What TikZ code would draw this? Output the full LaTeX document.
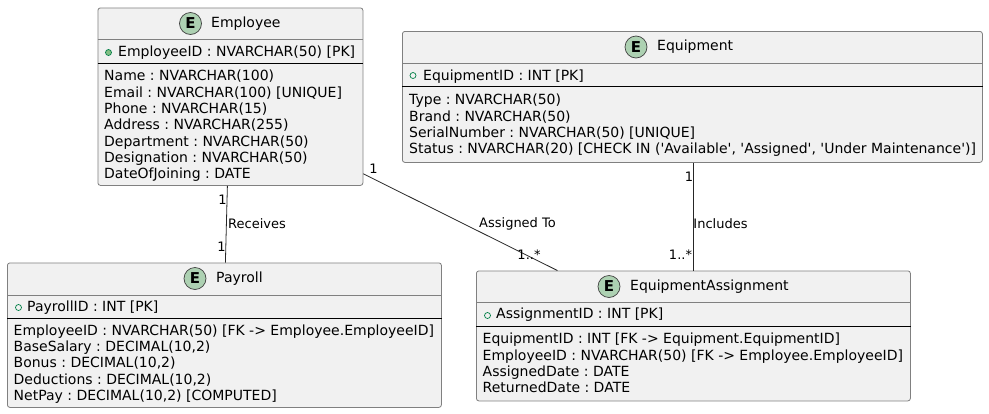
\documentclass[tikz,border=0pt]{standalone}
\usepackage{fontspec}
\setmainfont{DejaVu Sans}
\frenchspacing
\definecolor{boxfill}{HTML}{F1F1F1}
\definecolor{boxline}{HTML}{808080}
\definecolor{badgefill}{HTML}{ADD1B2}
\definecolor{keyline}{HTML}{038048}
\definecolor{keyfill}{HTML}{84BE84}
\tikzset{
  entity/.style={draw=boxline,fill=boxfill,line width=0.8pt,rounded corners=2.5pt,inner sep=0pt,anchor=north west},
  badge/.style={circle,draw=black!75,fill=badgefill,line width=0.7pt,minimum size=22pt,inner sep=0pt,font=\fontsize{15}{15}\selectfont\bfseries},
  title/.style={inner sep=0pt,anchor=west,font=\fontsize{14}{16}\selectfont},
  rows/.style={inner sep=0pt,anchor=north west,align=left,font=\fontsize{14}{16.3}\selectfont},
  rel/.style={inner sep=0pt,font=\fontsize{13}{14}\selectfont},
  keyfull/.style={circle,draw=keyline,fill=keyfill,line width=0.7pt,minimum size=6pt,inner sep=0pt},
  keyopen/.style={circle,draw=keyline,fill=none,line width=0.7pt,minimum size=6pt,inner sep=0pt},
  link/.style={draw=black!85,line width=0.8pt}
}
\begin{document}
\begin{tikzpicture}[x=1pt,y=-1pt]
  \useasboundingbox (0,0) rectangle (989,413);
  % entities
  \node[entity,minimum width=265pt,minimum height=177.5pt] (employee) at (97.5,7.5) {};
  \node[entity,minimum width=580pt,minimum height=131pt] (equipment) at (402,31) {};
  \node[entity,minimum width=434pt,minimum height=144.5pt] (payroll) at (7,262.5) {};
  \node[entity,minimum width=434pt,minimum height=130pt] (assignment) at (476,270.5) {};
  % rules
  \draw[boxline,line width=0.8pt] (employee.west |- 0,39.5) -- (employee.east |- 0,39.5);
  \draw[line width=0.7pt] (employee.west |- 0,63) -- (employee.east |- 0,63);
  \draw[boxline,line width=0.8pt] (equipment.west |- 0,63) -- (equipment.east |- 0,63);
  \draw[line width=0.7pt] (equipment.west |- 0,86.5) -- (equipment.east |- 0,86.5);
  \draw[boxline,line width=0.8pt] (payroll.west |- 0,295) -- (payroll.east |- 0,295);
  \draw[line width=0.7pt] (payroll.west |- 0,318) -- (payroll.east |- 0,318);
  \draw[boxline,line width=0.8pt] (assignment.west |- 0,302.5) -- (assignment.east |- 0,302.5);
  \draw[line width=0.7pt] (assignment.west |- 0,326) -- (assignment.east |- 0,326);
  % headers
  \node[badge] (employeeE) at (190.5,23.5) {E};
  \node[title] (employeeT) at (211,23.5) {Employee};
  \node[badge] (equipmentE) at (636,47) {E};
  \node[title] (equipmentT) at (657,47) {Equipment};
  \node[badge] (payrollE) at (195,278.5) {E};
  \node[title] (payrollT) at (216,278.5) {Payroll};
  \node[badge] (assignmentE) at (609,286.5) {E};
  \node[title] (assignmentT) at (630,286.5) {EquipmentAssignment};
  % keys
  \node[keyfull] (employeeK) at (108.5,52.5) {};
  \node[rows] (employeeP) at (118,45.5) {EmployeeID : NVARCHAR(50) [PK]};
  \node[keyopen] (equipmentK) at (413,75.5) {};
  \node[rows] (equipmentP) at (423,69.5) {EquipmentID : INT [PK]};
  \node[keyopen] (payrollK) at (18.5,307.5) {};
  \node[rows] (payrollP) at (27,300.5) {PayrollID : INT [PK]};
  \node[keyopen] (assignmentK) at (487.5,315.5) {};
  \node[rows] (assignmentP) at (496,307.5) {AssignmentID : INT [PK]};
  % columns
  \node[rows] (employeeC) at (104,70) {Name : NVARCHAR(100)\\Email : NVARCHAR(100) [UNIQUE]\\Phone : NVARCHAR(15)\\Address : NVARCHAR(255)\\Department : NVARCHAR(50)\\Designation : NVARCHAR(50)\\DateOfJoining : DATE};
  \node[rows] (equipmentC) at (409,94) {Type : NVARCHAR(50)\\Brand : NVARCHAR(50)\\SerialNumber : NVARCHAR(50) [UNIQUE]\\Status : NVARCHAR(20) [CHECK IN (\textquotesingle Available\textquotesingle, \textquotesingle Assigned\textquotesingle, \textquotesingle Under Maintenance\textquotesingle)]};
  \node[rows] (payrollC) at (13.5,324.5) {EmployeeID : NVARCHAR(50) [FK -> Employee.EmployeeID]\\BaseSalary : DECIMAL(10,2)\\Bonus : DECIMAL(10,2)\\Deductions : DECIMAL(10,2)\\NetPay : DECIMAL(10,2) [COMPUTED]};
  \node[rows] (assignmentC) at (482.5,333) {EquipmentID : INT [FK -> Equipment.EquipmentID]\\EmployeeID : NVARCHAR(50) [FK -> Employee.EmployeeID]\\AssignedDate : DATE\\ReturnedDate : DATE};
  % relations
  \draw[link] ([xshift=-3pt]employee.south) -- ([xshift=1pt]payroll.north);
  \draw[link] ([yshift=12pt]employee.south east) -- ([xshift=-136pt]assignment.north);
  \draw[link] ([xshift=1pt]equipment.south) -- (assignment.north);
  \node[rel] (recvL) at (257,223.5) {Receives};
  \node[rel] (recvA) at (222.5,200) {1};
  \node[rel] (recvB) at (221.5,247) {1};
  \node[rel] (assgL) at (517.5,223.5) {Assigned To};
  \node[rel] (assgA) at (373.5,169) {1};
  \node[rel] (assgB) at (529,255) {1..*};
  \node[rel] (inclL) at (720.5,223.5) {Includes};
  \node[rel] (inclA) at (689,177) {1};
  \node[rel] (inclB) at (680.5,255) {1..*};
\end{tikzpicture}
\end{document}
